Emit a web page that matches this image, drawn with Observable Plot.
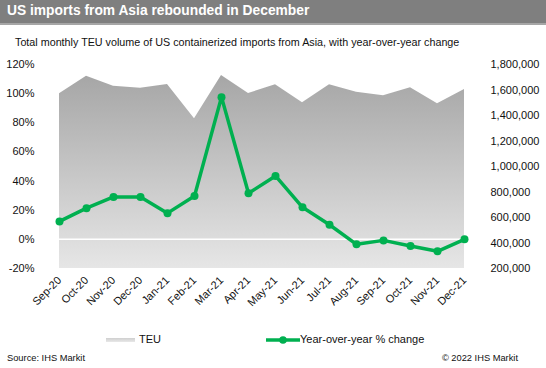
<!DOCTYPE html>
<html>
<head>
<meta charset="utf-8">
<script src="https://cdn.jsdelivr.net/npm/d3@7"></script>
<script src="https://cdn.jsdelivr.net/npm/@observablehq/plot@0.6"></script>
<style>
  html, body { margin: 0; padding: 0; background: #fff; }
  body { width: 546px; height: 368px; overflow: hidden; font-family: "Liberation Sans", Arial, sans-serif; }
  #wrap { position: relative; width: 546px; height: 368px; }
  #titlebar { position: absolute; left: 0; top: 0; width: 546px; height: 23px; background: #7f7f7f; border-bottom: 2px solid #a6a6a6; }
  #title { position: absolute; left: 7px; top: 3px; color: #fff; font-weight: bold; font-size: 13.8px; white-space: nowrap; }
  #subtitle { position: absolute; left: 15px; top: 36px; font-size: 10.75px; color: #111; white-space: nowrap; }
  #chart { position: absolute; left: 0; top: 0; }
  .leg { position: absolute; top: 333px; font-size: 11px; color: #111; white-space: nowrap; }
  .foot { position: absolute; top: 353px; font-size: 9.3px; color: #111; white-space: nowrap; }
</style>
</head>
<body>
<div id="wrap">
  <div id="chart"></div>
  <div id="titlebar"><div id="title">US imports from Asia rebounded in December</div></div>
  <div id="subtitle">Total monthly TEU volume of US containerized imports from Asia, with year-over-year change</div>
  <div class="leg" style="left:106px;">
    <span style="display:inline-block;width:29px;height:4px;background:linear-gradient(#cfcfcf,#e8e8e8);vertical-align:middle;margin-right:4px;"></span>TEU
  </div>
  <div class="leg" style="left:266px;">
    <svg width="34" height="10" style="vertical-align:middle;margin-right:0px;"><line x1="0" y1="5" x2="34" y2="5" stroke="#00b050" stroke-width="3.5"/><circle cx="17" cy="5" r="3.8" fill="#00b050"/></svg>Year-over-year % change
  </div>
  <div class="foot" style="left:7px;">Source: IHS Markit</div>
  <div class="foot" style="right:28px;">© 2022 IHS Markit</div>
</div>
<script>
const months = ["Sep-20","Oct-20","Nov-20","Dec-20","Jan-21","Feb-21","Mar-21","Apr-21","May-21","Jun-21","Jul-21","Aug-21","Sep-21","Oct-21","Nov-21","Dec-21"];
const teu = [1570000,1708000,1630000,1614000,1643000,1374000,1714000,1572000,1641000,1500000,1641000,1583000,1554000,1617000,1492000,1604000];
const yoy = [12.3,21.4,29.1,29.1,18.0,29.8,97.6,31.6,43.5,22.0,10.0,-3.4,-0.7,-4.6,-8.2,0.0];
const leftTicks = [-20,0,20,40,60,80,100,120];
const rightTicks = [200000,400000,600000,800000,1000000,1200000,1400000,1600000,1800000];

// map right-axis values (TEU) onto the left-axis (%) scale
const teuMin = 200000, teuMax = 1800000, pctMin = -20, pctMax = 120;
const toPct = v => pctMin + (v - teuMin) / (teuMax - teuMin) * (pctMax - pctMin);
const toTeu = p => teuMin + (p - pctMin) / (pctMax - pctMin) * (teuMax - teuMin);

const data = months.map((m, i) => ({month: m, teu: teu[i], teuPct: toPct(teu[i]), yoy: yoy[i]}));

const plot = Plot.plot({
  width: 546,
  height: 320,
  marginTop: 64,
  marginBottom: 52,
  marginLeft: 57,
  marginRight: 80,
  style: {fontFamily: "'Liberation Sans', Arial, sans-serif", fontSize: "11px", color: "#111", background: "transparent"},
  x: {type: "point", domain: months, padding: 0},
  y: {domain: [pctMin, pctMax]},
  marks: [
    Plot.areaY(data, {x: "month", y1: pctMin, y2: "teuPct", fill: "url(#teuGrad)", curve: "linear"}),
    Plot.ruleY([0], {stroke: "#ffffff", strokeWidth: 1.5}),
    Plot.lineY(data, {x: "month", y: "yoy", stroke: "#00b050", strokeWidth: 3.5, curve: "linear"}),
    Plot.dot(data, {x: "month", y: "yoy", fill: "#00b050", r: 4}),
    Plot.axisY(leftTicks, {anchor: "left", tickSize: 0, tickPadding: 23, tickFormat: d => d + "%", fontSize: 11, label: null}),
    Plot.axisY(rightTicks.map(toPct), {anchor: "right", tickSize: 0, tickPadding: 24, tickFormat: p => d3.format(",")(Math.round(toTeu(p))), fontSize: 11, label: null}),
    Plot.axisX(months, {anchor: "bottom", tickSize: 0, tickPadding: 10, tickRotate: -45, textAnchor: "end", lineAnchor: "middle", fontSize: 11, label: null})
  ]
});

const svg = d3.select(plot);
const defs = svg.insert("defs", ":first-child");
const grad = defs.append("linearGradient").attr("id", "teuGrad").attr("x1", 0).attr("y1", 0).attr("x2", 0).attr("y2", 1);
grad.append("stop").attr("offset", "0%").attr("stop-color", "#a6a6a6");
grad.append("stop").attr("offset", "100%").attr("stop-color", "#e6e6e6");

document.getElementById("chart").appendChild(plot);
</script>
</body>
</html>
